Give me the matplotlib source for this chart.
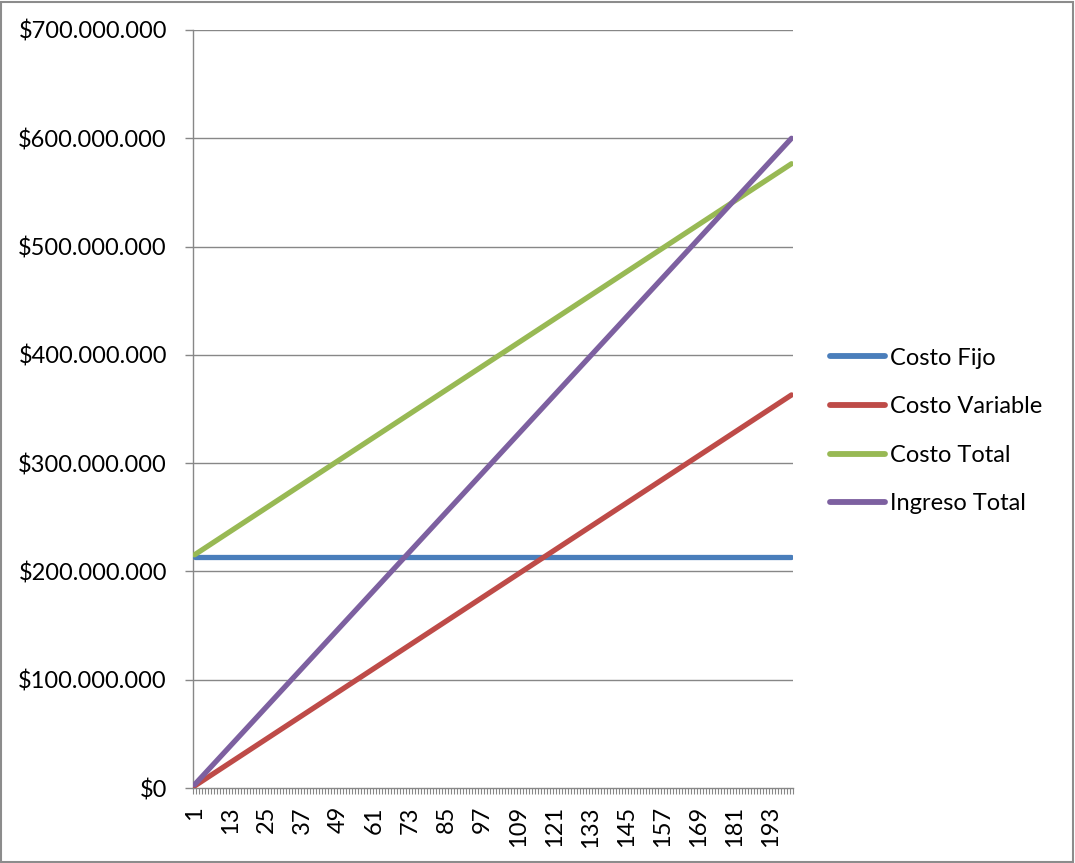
import numpy as np
import matplotlib
matplotlib.use("Agg")
import matplotlib.pyplot as plt
from matplotlib.patches import Rectangle
from matplotlib.ticker import FuncFormatter, FixedLocator

plt.rcParams['font.family'] = ['Lato', 'DejaVu Sans']

# Break-even model: units sold 1..200
unidades = np.arange(1, 201)
precio_unitario = 3_000_000          # sale price per unit
costo_variable_unitario = 1_815_000  # variable cost per unit
costo_fijo = 213_500_000             # fixed cost

costo_fijo_serie = np.full(unidades.shape, costo_fijo, dtype=float)
costo_variable_serie = costo_variable_unitario * unidades
costo_total_serie = costo_fijo_serie + costo_variable_serie
ingreso_total_serie = precio_unitario * unidades

series_nombres = ["Costo Fijo", "Costo Variable", "Costo Total", "Ingreso Total"]
series_colores = ["#4A7EBB", "#BE4B48", "#98B954", "#7D60A0"]
series_valores = [costo_fijo_serie, costo_variable_serie, costo_total_serie, ingreso_total_serie]

y_ticks = [0, 100_000_000, 200_000_000, 300_000_000, 400_000_000,
           500_000_000, 600_000_000, 700_000_000]
x_label_cats = list(range(1, 201, 12))

FS = 17
W, H = 1075, 863
fig = plt.figure(figsize=(W / 100, H / 100), dpi=100)
ax = fig.add_axes([193 / W, 1 - 788 / H, 600 / W, 758 / H])

grid_col = "#878787"
for v in y_ticks[1:]:
    ax.axhline(v, color=grid_col, lw=1.0, zorder=1)

for nombre, col, vals in zip(series_nombres, series_colores, series_valores):
    ax.plot(unidades, vals, color=col, lw=3.8, solid_capstyle='round',
            label=nombre, zorder=3)

ax.set_xlim(0.5, 200.5)
ax.set_ylim(0, 700_000_000)

for s in ["top", "right"]:
    ax.spines[s].set_visible(False)
for s in ["left", "bottom"]:
    ax.spines[s].set_color(grid_col)
    ax.spines[s].set_linewidth(1.0)

def pesos(v, pos):
    if v == 0:
        return "$0"
    return "$" + f"{int(v):,}".replace(",", ".")

ax.yaxis.set_major_locator(FixedLocator(y_ticks))
ax.yaxis.set_major_formatter(FuncFormatter(pesos))
ax.tick_params(axis='y', length=5.8, width=1.0, color=grid_col, labelsize=FS,
               pad=13, labelcolor="black")

# category labels every 12 units, tick marks on every category boundary
ax.set_xticks(x_label_cats)
ax.set_xticklabels([str(c) for c in x_label_cats], rotation=90)
ax.tick_params(axis='x', which='major', length=0, labelsize=FS, pad=13,
               labelcolor="black")
ax.set_xticks(np.arange(0.5, 201, 1.0), minor=True)
ax.tick_params(axis='x', which='minor', length=4.5, width=0.8, color=grid_col)

leg = ax.legend(loc='center left', bbox_to_anchor=(830 / W, 1 - 431 / H),
                bbox_transform=fig.transFigure, frameon=False, fontsize=FS,
                handlelength=2.35, handletextpad=0.2, labelspacing=1.17,
                borderaxespad=0, borderpad=0)
for line in leg.get_lines():
    line.set_linewidth(4.2)

fig.patches.append(Rectangle((1 / W, 1 / H), 1 - 3 / W, 1 - 3 / H,
                             transform=fig.transFigure, fill=False,
                             edgecolor="#8c8c8c", lw=1.5))

fig.savefig("out.png", dpi=100)
